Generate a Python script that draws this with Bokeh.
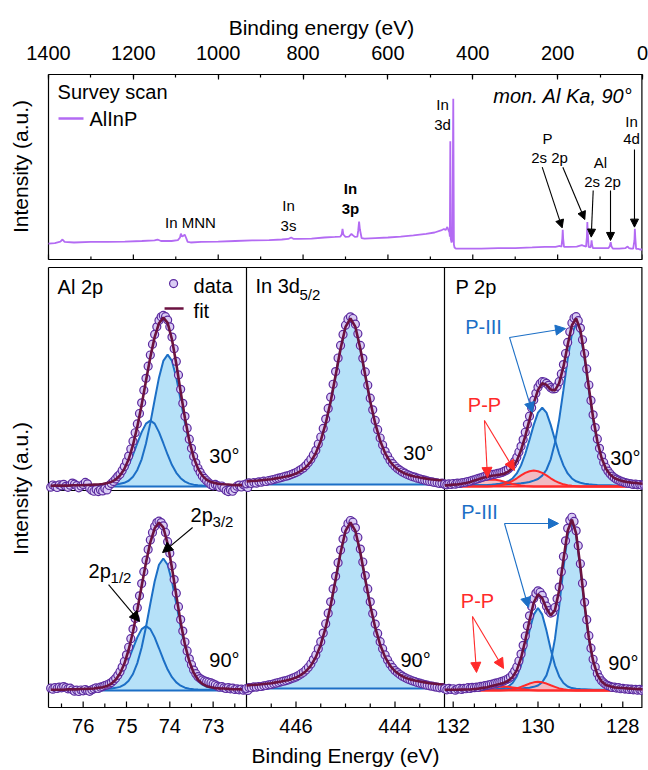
import math
import numpy as np
from bokeh.plotting import figure
from bokeh.models import (Range1d, LinearAxis, SingleIntervalTicker, Label, Arrow, NormalHead)
from bokeh.embed import file_html
from bokeh.resources import INLINE

# ======================= DATA =======================
# --- survey scan (binding energy eV, intensity a.u.) ---
survey_energy = [1400, 1385, 1372, 1367, 1362, 1340, 1300, 1260, 1220, 1180,
                 1150, 1143, 1135, 1110, 1095, 1090, 1088, 1085, 1081, 1079,
                 1076, 1072, 1065, 1040, 1000, 960, 920, 880, 850, 835,
                 828, 822, 810, 780, 750, 725, 712, 709, 707, 705,
                 700, 692, 686, 683, 678, 672, 670, 668, 666, 662,
                 655, 630, 600, 570, 540, 510, 490, 475, 468, 464,
                 460, 457, 455, 454, 453, 452, 450, 448, 446, 444.5,
                 443, 440, 420, 380, 340, 300, 260, 230, 205, 195,
                 191, 189, 188, 187, 185, 175, 155, 143, 138, 133,
                 131, 130, 129, 127, 123, 121, 120, 119, 117, 110,
                 95, 80, 77, 75, 73, 70, 55, 40, 35, 32,
                 27, 22, 19, 18, 17, 15, 10, 5, 0]
survey_intensity = [8.6, 8.9, 9.7, 10.8, 9.5, 9.2, 9.5, 9.5, 9.7, 10.0,
                    10.3, 10.8, 10.0, 10.0, 10.5, 11.9, 14.0, 12.4, 13.0, 13.5,
                    11.9, 9.5, 9.2, 9.5, 9.7, 10.0, 10.3, 10.5, 10.8, 11.1,
                    11.9, 11.1, 11.1, 11.3, 11.9, 12.2, 12.4, 13.5, 16.5, 13.5,
                    12.2, 12.4, 13.8, 13.2, 12.2, 12.4, 15.7, 20.5, 16.2, 11.6,
                    11.3, 11.6, 11.9, 12.4, 13.0, 13.8, 14.6, 15.7, 16.5, 15.9,
                    17.6, 15.7, 14.6, 12.4, 63.9, 11.3, 9.2, 10.3, 86.9, 8.1,
                    6.5, 5.9, 5.9, 5.9, 6.2, 6.2, 6.5, 6.8, 6.8, 7.3,
                    7.0, 11.3, 16.0, 11.3, 6.8, 6.8, 7.0, 7.8, 7.3, 7.0,
                    12.4, 20.2, 14.6, 6.8, 6.5, 8.1, 10.3, 8.1, 6.2, 6.2,
                    6.2, 6.2, 7.3, 9.4, 7.0, 5.9, 5.9, 6.2, 7.0, 6.2,
                    5.9, 5.9, 10.3, 16.6, 11.9, 5.7, 5.7, 5.4, 5.4]
survey_tick_major = [1400, 1200, 1000, 800, 600, 400, 200, 0]
survey_tick_minor = [1300, 1100, 900, 700, 500, 300, 100]

# --- Al 2p (components on 0.1 eV grid, data on 0.05 eV grid) ---
al_comp_start, al_comp_step = 76.75, 0.1
al30_p32 = [0.002, 0.003, 0.003, 0.003, 0.003, 0.004, 0.004, 0.004, 0.005, 0.005,
            0.006, 0.006, 0.007, 0.009, 0.010, 0.012, 0.016, 0.022, 0.034, 0.058,
            0.098, 0.161, 0.254, 0.375, 0.512, 0.644, 0.743, 0.780, 0.743, 0.644,
            0.512, 0.375, 0.254, 0.161, 0.098, 0.058, 0.034, 0.022, 0.016, 0.012,
            0.010, 0.009, 0.007, 0.006, 0.006, 0.005]
al30_p12 = [0.002, 0.002, 0.002, 0.002, 0.002, 0.003, 0.003, 0.003, 0.004, 0.004,
            0.005, 0.006, 0.008, 0.011, 0.017, 0.029, 0.049, 0.081, 0.127, 0.188,
            0.256, 0.322, 0.372, 0.390, 0.372, 0.322, 0.256, 0.188, 0.127, 0.081,
            0.049, 0.029, 0.017, 0.011, 0.008, 0.006, 0.005, 0.004, 0.004, 0.003,
            0.003, 0.003, 0.002, 0.002, 0.002, 0.002]
al90_p32 = [0.003, 0.003, 0.003, 0.003, 0.004, 0.004, 0.004, 0.005, 0.005, 0.006,
            0.006, 0.008, 0.009, 0.010, 0.012, 0.016, 0.022, 0.035, 0.059, 0.100,
            0.166, 0.261, 0.385, 0.526, 0.661, 0.762, 0.800, 0.762, 0.661, 0.526,
            0.385, 0.261, 0.166, 0.100, 0.059, 0.035, 0.022, 0.016, 0.012, 0.010,
            0.009, 0.008, 0.006, 0.006, 0.005, 0.005]
al90_p12 = [0.002, 0.002, 0.002, 0.002, 0.003, 0.003, 0.003, 0.004, 0.004, 0.005,
            0.006, 0.008, 0.011, 0.017, 0.029, 0.049, 0.081, 0.127, 0.188, 0.256,
            0.322, 0.372, 0.390, 0.372, 0.322, 0.256, 0.188, 0.127, 0.081, 0.049,
            0.029, 0.017, 0.011, 0.008, 0.006, 0.005, 0.004, 0.004, 0.003, 0.003,
            0.003, 0.002, 0.002, 0.002, 0.002, 0.002]
al_data_start, al_data_step = 76.75, 0.05
al30_data = [-0.004, 0.009, 0.002, -0.006, 0.010, 0.004, 0.013, 0.001, -0.005,
             0.008, 0.020, 0.014, 0.005, -0.008, 0.003, 0.012, 0.024, 0.016, -0.010,
             -0.022, -0.028, -0.018, -0.030, -0.020, -0.026, -0.012, -0.020, 0.006, 0.018,
             0.030, 0.045, 0.060, 0.072, 0.095, 0.118, 0.148, 0.180, 0.222, 0.268,
             0.318, 0.370, 0.432, 0.495, 0.570, 0.640, 0.712, 0.778, 0.842, 0.900,
             0.945, 0.982, 1.004, 1.012, 1.005, 0.985, 0.945, 0.884, 0.815, 0.740,
             0.660, 0.575, 0.492, 0.415, 0.345, 0.280, 0.226, 0.178, 0.140, 0.108,
             0.084, 0.062, 0.048, 0.034, 0.022, 0.010, 0.004, 0.012, 0.006, -0.004,
             0.003, -0.010, -0.024, -0.030, -0.020, -0.028, -0.012, 0.002, 0.008, -0.003,
             0.010, 0.004, -0.006]
al90_data = [0.014, 0.008, 0.018, 0.012, 0.020, 0.016, 0.024, 0.018, 0.010,
             0.014, 0.004, -0.004, 0.002, -0.006, 0.003, -0.002, 0.006, 0.000, -0.005,
             0.004, 0.010, 0.016, 0.012, 0.020, 0.024, 0.030, 0.034, 0.040, 0.048,
             0.060, 0.074, 0.092, 0.114, 0.142, 0.176, 0.216, 0.262, 0.314, 0.372,
             0.436, 0.502, 0.574, 0.648, 0.720, 0.790, 0.855, 0.912, 0.958, 0.994,
             1.018, 1.026, 1.018, 0.998, 0.958, 0.902, 0.832, 0.756, 0.672, 0.590,
             0.508, 0.430, 0.360, 0.294, 0.240, 0.192, 0.156, 0.124, 0.102, 0.084,
             0.072, 0.064, 0.058, 0.054, 0.050, 0.046, 0.040, 0.034, 0.026, 0.020,
             0.024, 0.016, 0.012, 0.018, 0.010, 0.014, 0.006, 0.010, 0.004, 0.008,
             0.002, 0.006, 0.000]

# --- In 3d5/2 ---
in_comp_start, in_comp_step = 447.0, 0.1
in_comp = [0.019, 0.021, 0.023, 0.026, 0.029, 0.032, 0.037, 0.042, 0.048, 0.055,
           0.066, 0.082, 0.104, 0.138, 0.189, 0.264, 0.368, 0.500, 0.657, 0.818,
           0.949, 1.000, 0.949, 0.818, 0.657, 0.500, 0.368, 0.264, 0.189, 0.138,
           0.104, 0.082, 0.066, 0.055, 0.048, 0.042, 0.037, 0.032, 0.029, 0.026,
           0.023]
in_data_start, in_data_step = 447.0, 0.05
in30_data = [0.004, 0.010, 0.006, 0.012, 0.008, 0.016, 0.014, 0.020, 0.018, 0.024,
             0.026, 0.030, 0.034, 0.038, 0.042, 0.046, 0.050, 0.054, 0.060, 0.066,
             0.072, 0.080, 0.090, 0.100, 0.114, 0.132, 0.152, 0.178, 0.206, 0.244,
             0.286, 0.338, 0.394, 0.458, 0.526, 0.604, 0.680, 0.762, 0.838, 0.904,
             0.960, 0.996, 1.010, 1.000, 0.966, 0.908, 0.838, 0.760, 0.678, 0.598,
             0.520, 0.450, 0.386, 0.330, 0.280, 0.238, 0.200, 0.172, 0.146, 0.126,
             0.110, 0.096, 0.086, 0.076, 0.068, 0.060, 0.054, 0.048, 0.044, 0.038,
             0.034, 0.030, 0.026, 0.022, 0.018, 0.016, 0.012, 0.010, 0.006, 0.008,
             0.002]
in90_data = [0.000, 0.006, 0.004, 0.010, 0.008, 0.012, 0.012, 0.016, 0.018, 0.022,
             0.024, 0.028, 0.032, 0.036, 0.040, 0.044, 0.048, 0.052, 0.058, 0.064,
             0.070, 0.078, 0.088, 0.098, 0.112, 0.128, 0.148, 0.174, 0.202, 0.240,
             0.282, 0.334, 0.390, 0.454, 0.522, 0.600, 0.676, 0.758, 0.834, 0.900,
             0.958, 0.994, 1.012, 1.002, 0.968, 0.910, 0.840, 0.762, 0.680, 0.600,
             0.522, 0.452, 0.388, 0.332, 0.282, 0.240, 0.202, 0.172, 0.146, 0.126,
             0.108, 0.096, 0.084, 0.074, 0.066, 0.058, 0.052, 0.046, 0.042, 0.036,
             0.032, 0.028, 0.024, 0.020, 0.016, 0.014, 0.010, 0.008, 0.004, 0.006,
             0.000]

# --- P 2p ---
p_comp_start, p_comp_step = 132.2, 0.1
p30_p32 = [0.004, 0.004, 0.005, 0.005, 0.005, 0.006, 0.006, 0.007, 0.007, 0.008,
           0.008, 0.009, 0.010, 0.011, 0.012, 0.014, 0.015, 0.017, 0.019, 0.023,
           0.027, 0.035, 0.045, 0.065, 0.100, 0.162, 0.261, 0.401, 0.575, 0.760,
           0.911, 0.970, 0.911, 0.760, 0.575, 0.401, 0.261, 0.162, 0.100, 0.065,
           0.045, 0.035, 0.027, 0.023, 0.019, 0.017, 0.015, 0.014, 0.012]
p30_p12 = [0.003, 0.004, 0.004, 0.004, 0.005, 0.005, 0.006, 0.007, 0.007, 0.008,
           0.009, 0.011, 0.013, 0.017, 0.022, 0.031, 0.048, 0.078, 0.126, 0.194,
           0.279, 0.368, 0.441, 0.470, 0.441, 0.368, 0.279, 0.194, 0.126, 0.078,
           0.048, 0.031, 0.022, 0.017, 0.013, 0.011, 0.009, 0.008, 0.007, 0.007,
           0.006, 0.005, 0.005, 0.004, 0.004, 0.004, 0.003, 0.003, 0.003]
p30_pp1 = [0.0] * 11 + [0.002, 0.004, 0.007, 0.013, 0.022, 0.034, 0.049, 0.066, 0.081, 0.091,
                        0.095, 0.091, 0.081, 0.066, 0.049, 0.034, 0.022, 0.013, 0.007, 0.004,
                        0.002] + [0.0] * 17
p30_pp2 = [0.0] * 2 + [0.002, 0.003, 0.006, 0.010, 0.015, 0.022, 0.029, 0.036, 0.040, 0.042,
                       0.040, 0.036, 0.029, 0.022, 0.015, 0.010, 0.006, 0.003, 0.002] + [0.0] * 28
p90_p32 = [0.002, 0.002, 0.002, 0.002, 0.003, 0.003, 0.003, 0.003, 0.004, 0.004,
           0.004, 0.005, 0.005, 0.006, 0.007, 0.008, 0.009, 0.010, 0.012, 0.014,
           0.016, 0.021, 0.029, 0.048, 0.087, 0.165, 0.297, 0.485, 0.704, 0.893,
           0.970, 0.893, 0.704, 0.485, 0.297, 0.165, 0.087, 0.048, 0.029, 0.021,
           0.016, 0.014, 0.012, 0.010, 0.009, 0.008, 0.007, 0.006, 0.005]
p90_p12 = [0.002, 0.002, 0.002, 0.002, 0.002, 0.003, 0.003, 0.004, 0.004, 0.005,
           0.006, 0.007, 0.008, 0.010, 0.014, 0.023, 0.043, 0.081, 0.145, 0.238,
           0.345, 0.437, 0.475, 0.437, 0.345, 0.238, 0.145, 0.081, 0.043, 0.023,
           0.014, 0.010, 0.008, 0.007, 0.006, 0.005, 0.004, 0.004, 0.003, 0.003,
           0.002, 0.002, 0.002, 0.002, 0.002, 0.001, 0.001, 0.001, 0.001]
p90_pp1 = [0.0] * 14 + [0.001, 0.003, 0.007, 0.012, 0.021, 0.030, 0.040, 0.047, 0.050, 0.047,
                        0.040, 0.030, 0.021, 0.012, 0.007, 0.003, 0.001] + [0.0] * 18
p90_pp2 = [0.0] * 7 + [0.002, 0.003, 0.006, 0.009, 0.014, 0.018, 0.022, 0.023, 0.022, 0.018,
                       0.014, 0.009, 0.006, 0.003, 0.002] + [0.0] * 27
p_data_start, p_data_step = 132.2, 0.05
p30_data = [0.014, 0.010, 0.016, 0.012, 0.018, 0.014, 0.020, 0.018, 0.022, 0.024,
            0.026, 0.030, 0.032, 0.036, 0.040, 0.044, 0.048, 0.052, 0.056, 0.060,
            0.062, 0.066, 0.070, 0.072, 0.074, 0.078, 0.080, 0.084, 0.090, 0.096,
            0.104, 0.116, 0.130, 0.150, 0.174, 0.206, 0.240, 0.280, 0.324, 0.372,
            0.420, 0.470, 0.516, 0.556, 0.592, 0.614, 0.626, 0.624, 0.616, 0.604,
            0.590, 0.582, 0.584, 0.598, 0.626, 0.672, 0.728, 0.794, 0.860, 0.924,
            0.976, 1.006, 1.014, 0.990, 0.946, 0.876, 0.794, 0.702, 0.606, 0.514,
            0.428, 0.352, 0.284, 0.228, 0.180, 0.144, 0.114, 0.092, 0.076, 0.062,
            0.052, 0.044, 0.038, 0.032, 0.028, 0.024, 0.020, 0.018, 0.016, 0.012,
            0.014, 0.010, 0.012, 0.008, 0.010, 0.006, 0.008, 0.004]
p90_data = [0.010, 0.004, 0.012, 0.006, 0.010, 0.002, 0.008, 0.012, 0.006, 0.012,
            0.010, 0.016, 0.012, 0.018, 0.016, 0.020, 0.018, 0.024, 0.024, 0.028,
            0.030, 0.032, 0.036, 0.038, 0.042, 0.044, 0.048, 0.052, 0.056, 0.062,
            0.068, 0.078, 0.092, 0.112, 0.136, 0.170, 0.210, 0.260, 0.314, 0.372,
            0.430, 0.484, 0.530, 0.560, 0.574, 0.566, 0.548, 0.518, 0.486, 0.460,
            0.446, 0.452, 0.478, 0.528, 0.596, 0.684, 0.772, 0.862, 0.934, 0.980,
            0.998, 0.974, 0.920, 0.834, 0.730, 0.618, 0.508, 0.408, 0.316, 0.244,
            0.180, 0.136, 0.098, 0.074, 0.056, 0.044, 0.034, 0.028, 0.024, 0.018,
            0.020, 0.014, 0.016, 0.010, 0.012, 0.008, 0.010, 0.006, 0.008, 0.004,
            0.006, 0.002, 0.006, 0.000, 0.004, 0.002, 0.004, 0.000]

# bottom axis ticks (eV)
al_ticks, al_minor = [76, 75, 74, 73], [76.5, 75.5, 74.5, 73.5, 72.5]
in_ticks, in_minor = [446, 444], [446.5, 445.5, 445, 444.5, 443.5]
p_ticks, p_minor = [132, 130, 128], [131.5, 131, 130.5, 129.5, 129, 128.5, 127.5]

# ======================= STYLE / LAYOUT =======================
FONT = "Liberation Sans"
BLUE, BLUE_FILL = "#1c6fc6", "#b6e1f8"
RED, RED_FILL = "#ff2a2a", "#f7b6bb"
FIT = "#6b1240"
DATA_LINE, DATA_FILL = "#5b2a9f", "#dacdf4"
SURVEY = "#b36bf3"

X0 = 48             # page x where the boxes start (frame itself starts at 0)
FW, FH = 642, 696   # frame size in px (frame spans page y 74..770)
PW = 198            # width of one lower panel
CANVAS_BOTTOM = 770
AXIS_Y = 707        # page y of the lower x axis line


def v(page_y):
    return CANVAS_BOTTOM - page_y


p = figure(width=648, height=770, x_range=Range1d(0, FW), y_range=Range1d(0, FH),
           x_axis_location=None, y_axis_location=None, toolbar_location=None,
           output_backend="svg", min_border_left=0, min_border_right=6,
           min_border_top=74, min_border_bottom=0, outline_line_color=None,
           background_fill_color="white", border_fill_color="white")
p.xgrid.visible = False
p.ygrid.visible = False

cols = [("al", 76.8, 72.23), ("in", 447.0, 443.0), ("p", 132.205, 127.535)]
for c, (name, el, er) in enumerate(cols):
    span = el - er
    p.extra_x_ranges[name] = Range1d(el + span * (X0 + c * PW) / PW, er - span * (2 - c))
K = 100.0 / 185.0
p.extra_x_ranges["surv"] = Range1d(1400 + X0 * 1400.0 / (FW - X0), 0)
p.extra_y_ranges["surv"] = Range1d(-v(259) * K, (FH - v(259)) * K)
calib = {"al30": (486, 169.0), "al90": (690, 165.0),
         "in30": (484, 166.0), "in90": (688, 166.0),
         "p30": (486, 167.5), "p90": (690, 173.6)}
for key, (base_y, scale) in calib.items():
    vb = v(base_y)
    p.extra_y_ranges[key] = Range1d(-vb / scale, (FH - vb) / scale)

# frame boxes
p.segment(x0=[FW, FW], y0=[v(259), v(AXIS_Y)], x1=[FW, FW], y1=[FH, v(267)],
          line_color="black", line_width=2.4)
p.segment(x0=[X0, X0, X0, X0, X0, X0 + PW, X0 + 2 * PW, X0],
          y0=[v(259), v(AXIS_Y), v(259), v(267), v(490), v(AXIS_Y), v(AXIS_Y), v(AXIS_Y)],
          x1=[X0, X0, FW, FW, FW, X0 + PW, X0 + 2 * PW, FW],
          y1=[FH, v(267), v(259), v(267), v(490), v(267), v(267), v(AXIS_Y)],
          line_color="black", line_width=1.2)

# survey
p.segment(x0=survey_tick_major, y0=0, x1=survey_tick_major, y1=5 * K,
          x_range_name="surv", y_range_name="surv", line_color="black", line_width=1.2)
p.segment(x0=survey_tick_minor, y0=0, x1=survey_tick_minor, y1=3 * K,
          x_range_name="surv", y_range_name="surv", line_color="black", line_width=1.2)
p.line(survey_energy, survey_intensity, x_range_name="surv", y_range_name="surv",
       line_color=SURVEY, line_width=1.8)
p.line([1376.4, 1317.5], [76.2, 76.2], x_range_name="surv", y_range_name="surv",
       line_color=SURVEY, line_width=2.5)


def lab(x, y, text, xr="default", yr="default", size="20px", align="left",
        color="black", style="normal", angle=0.0):
    p.add_layout(Label(x=x, y=y, text=text, x_range_name=xr, y_range_name=yr,
                       text_font=FONT, text_font_size=size, text_align=align,
                       text_color=color, text_font_style=style,
                       text_baseline="middle", angle=angle))


def arrow(x0, y0, x1, y1, xr, yr, color="black", size=8):
    p.add_layout(Arrow(x_start=x0, y_start=y0, x_end=x1, y_end=y1,
                       x_range_name=xr, y_range_name=yr, line_color=color, line_width=1.1,
                       end=NormalHead(size=size, fill_color=color, line_color=color, line_width=1)))


def draw_panel(xr, yr, e_start, e_step, comps, kinds, d_start, d_step, data, base_color):
    n = min(len(cmp) for cmp in comps)
    e = e_start - e_step * np.arange(n)
    arrs = [np.asarray(cmp[:n], dtype=float) for cmp in comps]
    fit = np.sum(arrs, axis=0)
    zero = np.zeros(n)
    kw = dict(x_range_name=xr, y_range_name=yr)
    for a, k in zip(arrs, kinds):
        if k == "b":
            p.varea(x=e, y1=zero, y2=a, fill_color=BLUE_FILL, **kw)
    for a, k in zip(arrs, kinds):
        if k == "r":
            p.varea(x=e, y1=zero, y2=a, fill_color=RED_FILL, fill_alpha=0.9, **kw)
    for a, k in zip(arrs, kinds):
        if k == "b":
            p.line(e, a, line_color=BLUE, line_width=2, **kw)
    el = [cc for cc in cols if cc[0] == xr][0]
    p.line([el[1], el[2]], [0, 0], line_color=base_color, line_width=2, **kw)
    for a, k in zip(arrs, kinds):
        if k == "r":
            p.line(e, a, line_color=RED, line_width=2, **kw)
    ed = d_start - d_step * np.arange(len(data))
    p.scatter(ed, data, marker="circle", size=8, line_color=DATA_LINE, line_width=1.2,
              fill_color=DATA_FILL, **kw)
    p.line(e, fit, line_color=FIT, line_width=2.6, **kw)


draw_panel("al", "al30", al_comp_start, al_comp_step, [al30_p32, al30_p12], "bb",
           al_data_start, al_data_step, al30_data, BLUE)
draw_panel("al", "al90", al_comp_start, al_comp_step, [al90_p32, al90_p12], "bb",
           al_data_start, al_data_step, al90_data, BLUE)
draw_panel("in", "in30", in_comp_start, in_comp_step, [in_comp], "b",
           in_data_start, in_data_step, in30_data, BLUE)
draw_panel("in", "in90", in_comp_start, in_comp_step, [in_comp], "b",
           in_data_start, in_data_step, in90_data, BLUE)
draw_panel("p", "p30", p_comp_start, p_comp_step, [p30_p32, p30_p12, p30_pp1, p30_pp2], "bbrr",
           p_data_start, p_data_step, p30_data, RED)
draw_panel("p", "p90", p_comp_start, p_comp_step, [p90_p32, p90_p12, p90_pp1, p90_pp2], "bbrr",
           p_data_start, p_data_step, p90_data, RED)

# legend in Al panel
p.scatter([73.913], [1.201], marker="circle", size=8, line_color=DATA_LINE, line_width=1.2,
          fill_color=DATA_FILL, x_range_name="al", y_range_name="al30")
p.line([74.121, 73.682], [1.053, 1.053], line_color=FIT, line_width=2.6,
       x_range_name="al", y_range_name="al30")

# ---- top axis (survey) ----
top = LinearAxis(x_range_name="surv", ticker=SingleIntervalTicker(interval=200, num_minor_ticks=2),
                 axis_label="Binding energy (eV)", bounds=(0, 1400))
top.axis_line_width = 1.2
top.axis_line_color = "black"
top.major_tick_out = 0
top.minor_tick_out = 0
top.major_tick_in = 5
top.minor_tick_in = 3
top.major_tick_line_width = 1.2
top.minor_tick_line_width = 1.2
top.major_label_text_font = FONT
top.major_label_text_font_size = "20px"
top.major_label_text_color = "black"
top.axis_label_text_font = FONT
top.axis_label_text_font_size = "21px"
top.axis_label_text_font_style = "normal"
top.axis_label_text_color = "black"
top.major_label_standoff = 15
top.axis_label_standoff = 4
p.add_layout(top, "above")

# ---- lower energy axis: ticks and labels per panel (through each panel's x range) ----
for name, majors, minors in [("al", al_ticks, al_minor), ("in", in_ticks, in_minor),
                             ("p", p_ticks, p_minor)]:
    p.segment(x0=majors, y0=v(AXIS_Y), x1=majors, y1=v(AXIS_Y - 6), x_range_name=name,
              line_color="black", line_width=1.2)
    p.segment(x0=minors, y0=v(AXIS_Y), x1=minors, y1=v(AXIS_Y - 4), x_range_name=name,
              line_color="black", line_width=1.2)
    for t in majors:
        lab(t, v(725), str(t), xr=name, align="center")
lab((X0 + FW) / 2, v(755), "Binding Energy (eV)", size="21px", align="center")

# ---- texts ----
lab(20, v(166), "Intensity (a.u.)", size="21px", align="center", angle=math.pi / 2)
lab(20, v(488), "Intensity (a.u.)", size="21px", align="center", angle=math.pi / 2)

S = ("surv", "surv")
lab(1378.7, 90.3, "Survey scan", *S)
lab(1303.3, 76.2, "AlInP", *S)
lab(23.6, 88.6, "mon. Al Ka, 90°", *S, align="right", style="italic")
lab(1065.3, 20.0, "In MNN", *S, size="15px", align="center")
lab(834.3, 29.2, "In", *S, size="15px", align="center")
lab(834.3, 18.4, "3s", *S, size="15px", align="center")
lab(688.2, 38.4, "In", *S, size="15px", align="center", style="bold")
lab(688.2, 27.6, "3p", *S, size="15px", align="center", style="bold")
lab(471.4, 83.8, "In", *S, size="15px", align="center")
lab(471.4, 73.0, "3d", *S, size="15px", align="center")
lab(223.9, 65.4, "P", *S, size="15px", align="center")
lab(219.2, 55.1, "2s 2p", *S, size="15px", align="center")
lab(99.0, 52.4, "Al", *S, size="15px", align="center")
lab(94.3, 42.2, "2s 2p", *S, size="15px", align="center")
lab(25.9, 74.6, "In", *S, size="15px", align="center")
lab(25.9, 65.4, "4d", *S, size="15px", align="center")
arrow(236.4, 49.9, 189.3, 17.1, *S)
arrow(187.8, 49.9, 136.0, 21.6, *S)
arrow(116.2, 37.3, 120.9, 12.1, *S)
arrow(75.4, 37.3, 75.4, 10.3, *S)
arrow(18.9, 59.5, 18.9, 17.5, *S)

# Al panels
lab(76.59, 1.183, "Al 2p", "al", "al30")
lab(73.451, 1.189, "data", "al", "al30")
lab(73.451, 1.041, "fit", "al", "al30")
lab(72.389, 0.183, "30°", "al", "al30", align="right")
lab(73.521, 1.061, "2p", "al", "al90")
lab(73.013, 1.024, "3/2", "al", "al90", size="15px")
arrow(73.474, 0.988, 74.167, 0.836, "al", "al90", size=10)
lab(75.876, 0.727, "2p", "al", "al90")
lab(75.368, 0.685, "1/2", "al", "al90", size="15px")
arrow(75.414, 0.642, 74.698, 0.418, "al", "al90", size=10)
lab(72.389, 0.182, "90°", "al", "al90", align="right")

# In panels
lab(446.82, 1.193, "In 3d", "in", "in30")
lab(445.93, 1.145, "5/2", "in", "in30", size="15px")
lab(443.22, 0.187, "30°", "in", "in30", align="right")
lab(443.28, 0.169, "90°", "in", "in90", align="right")

# P panels
lab(131.946, 1.194, "P 2p", "p", "p30")
lab(127.582, 0.173, "30°", "p", "p30", align="right")
lab(131.285, 0.955, "P-III", "p", "p30", align="center", color=BLUE)
arrow(130.672, 0.890, 129.351, 0.943, "p", "p30", color=BLUE, size=10)
arrow(130.672, 0.890, 130.130, 0.442, "p", "p30", color=BLUE, size=10)
lab(131.262, 0.484, "P-P", "p", "p30", align="center", color=RED)
arrow(131.262, 0.394, 131.191, 0.054, "p", "p30", color=RED, size=10)
arrow(131.262, 0.394, 130.554, 0.096, "p", "p30", color=RED, size=10)
lab(131.380, 1.031, "P-III", "p", "p90", align="center", color=BLUE)
arrow(130.790, 0.962, 129.516, 0.962, "p", "p90", color=BLUE, size=10)
arrow(130.790, 0.962, 130.224, 0.478, "p", "p90", color=BLUE, size=10)
lab(131.427, 0.518, "P-P", "p", "p90", align="center", color=RED)
arrow(131.545, 0.426, 131.450, 0.104, "p", "p90", color=RED, size=10)
arrow(131.545, 0.426, 130.813, 0.127, "p", "p90", color=RED, size=10)
lab(127.629, 0.156, "90°", "p", "p90", align="right")

with open("out.html", "w") as f:
    f.write(file_html(p, INLINE))
